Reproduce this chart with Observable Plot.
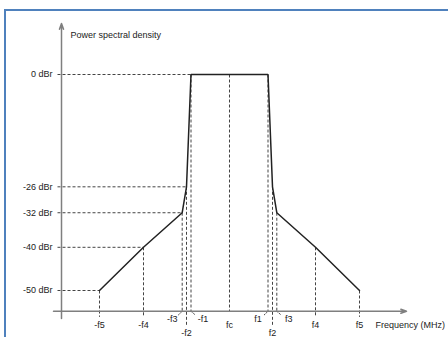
<!DOCTYPE html>
<html>
<head>
<meta charset="utf-8">
<script src="https://cdn.jsdelivr.net/npm/d3@7"></script>
<script src="https://cdn.jsdelivr.net/npm/@observablehq/plot@0.6"></script>
<style>
  html, body { margin: 0; padding: 0; background: #fff; }
  #wrap { position: relative; width: 448px; height: 337px; overflow: hidden; }
  #frame { position: absolute; left: 4px; top: 9px; width: 480px; height: 400px;
           border-top: 2px solid #4f81bd; border-left: 2px solid #4f81bd; pointer-events: none; }
</style>
</head>
<body>
<div id="wrap"><div id="frame"></div></div>
<script>
// Frequency markers (fc = 0, arbitrary MHz units)
const freqLabels = ["-f5", "-f4", "-f3", "-f2", "-f1", "fc", "f1", "f2", "f3", "f4", "f5"];
const freqValues = [-130, -86, -47.3, -43, -38.5, 0, 38.5, 43, 47.3, 86, 130];
// Level of each marker (where its dashed guide starts)
const freqLevels = [-50, -40, -32, -26, 0, 0, 0, -26, -32, -40, -50];

// Level ticks
const levelLabels = ["0 dBr", "-26 dBr", "-32 dBr", "-40 dBr", "-50 dBr"];
const levelValues = [0, -26, -32, -40, -50];
const levelFreq = [-38.5, -43, -47.3, -86, -130];

// Spectrum mask
const maskFreq = [-130, -86, -47.3, -43, -38.5, 38.5, 43, 47.3, 86, 130];
const maskLevel = [-50, -40, -32, -26, 0, 0, -26, -32, -40, -50];

const axisLevel = -54.8;
const mask = maskFreq.map((f, i) => ({f, v: maskLevel[i]}));
const levels = levelValues.map((v, i) => ({v, label: levelLabels[i], f: levelFreq[i]}));
const marks = freqValues.map((f, i) => ({f, label: freqLabels[i], v: freqLevels[i]}));

const below = marks.filter(d => ["-f5", "-f4", "fc", "f4", "f5"].includes(d.label));
const deep = marks.filter(d => d.label === "-f2" || d.label === "f2");
const leftSide = marks.filter(d => d.label === "-f3" || d.label === "f1");
const rightSide = marks.filter(d => d.label === "-f1" || d.label === "f3");

const dash = {stroke: "#444", strokeWidth: 1, strokeDasharray: "3,2"};
const font = "Liberation Sans, Arial, sans-serif";

const chart = Plot.plot({
  width: 448,
  height: 337,
  style: {fontFamily: font, fontSize: "9px", color: "#222", background: "transparent"},
  x: {domain: [-176, 177], range: [53, 406], axis: null},
  y: {domain: [-50, 0], range: [290, 74], axis: null},
  marks: [
    // horizontal guides
    Plot.link(levels, {x1: -172, x2: "f", y1: "v", y2: "v", ...dash}),
    // vertical guides
    Plot.link(marks.filter(d => !["-f2", "f2", "-f5", "-f4", "f4", "f5"].includes(d.label)),
      {x1: "f", x2: "f", y1: "v", y2: axisLevel, ...dash}),
    Plot.link(marks.filter(d => ["-f5", "-f4", "f4", "f5"].includes(d.label)),
      {x1: "f", x2: "f", y1: "v", y2: axisLevel - 1.3, ...dash}),
    Plot.link(deep, {x1: "f", x2: "f", y1: "v", y2: axisLevel - 3.5, ...dash}),
    // leader ticks
    Plot.link(leftSide, {x1: d => d.f - 4, x2: "f", y1: axisLevel - 0.9, y2: axisLevel, stroke: "#444", strokeWidth: 1, strokeDasharray: "2,1"}),
    Plot.link(rightSide, {x1: "f", x2: d => d.f + 4.5, y1: axisLevel, y2: axisLevel - 0.9, stroke: "#444", strokeWidth: 1, strokeDasharray: "2,1"}),
    // axes
    Plot.arrow([{x1: -168, y1: -56.5, x2: -168, y2: 11.8}], {x1: "x1", y1: "y1", x2: "x2", y2: "y2", stroke: "#7f7f7f", strokeWidth: 1.5, headLength: 6, headAngle: 40}),
    Plot.arrow([{x1: -176, y1: axisLevel, x2: 177, y2: axisLevel}], {x1: "x1", y1: "y1", x2: "x2", y2: "y2", stroke: "#7f7f7f", strokeWidth: 1.5, headLength: 6, headAngle: 40}),
    // mask
    Plot.line(mask, {x: "f", y: "v", stroke: "#222", strokeWidth: 1.5, strokeLinejoin: "miter"}),
    // level labels
    Plot.text(levels, {x: -168, y: "v", text: "label", textAnchor: "end", dx: -9, fill: "#222"}),
    // frequency labels
    Plot.text(below, {x: "f", y: axisLevel, text: "label", dy: 14, fill: "#222"}),
    Plot.text(deep, {x: "f", y: axisLevel, text: "label", dy: 21.5, fill: "#222"}),
    Plot.text(leftSide, {x: "f", y: axisLevel, text: "label", dx: -10, dy: 8, fill: "#222"}),
    Plot.text(rightSide, {x: "f", y: axisLevel, text: "label", dx: 12, dy: 8, fill: "#222"}),
    Plot.text(["Frequency (MHz)"], {x: 146, y: axisLevel, text: d => d, textAnchor: "start", dy: 14, fill: "#222"}),
    Plot.text(["Power spectral density"], {x: -159, y: 0, text: d => d, textAnchor: "start", dy: -39, fill: "#222"})
  ]
});
document.getElementById("wrap").insertBefore(chart, document.getElementById("frame"));
</script>
</body>
</html>
